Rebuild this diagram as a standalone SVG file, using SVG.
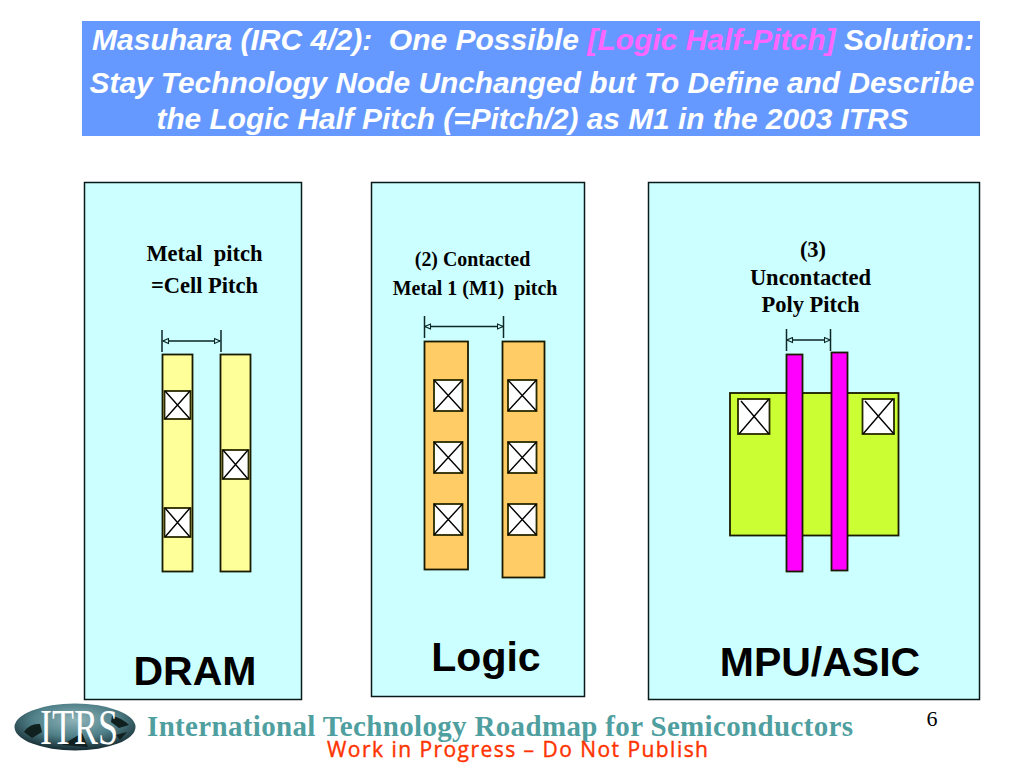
<svg xmlns="http://www.w3.org/2000/svg" width="1024" height="768" viewBox="0 0 1024 768">
<style>
.t{font-family:"Liberation Sans",Arial,sans-serif;font-weight:bold;font-style:italic;font-size:29.850px;fill:#fff}
.s{font-family:"Liberation Serif","Times New Roman",serif;font-weight:bold;text-anchor:middle;fill:#000}
.b{font-family:"Liberation Sans",Arial,sans-serif;font-weight:bold;font-size:41px;text-anchor:middle;fill:#000}
.panel{fill:#ccffff;stroke:#0a1a1a;stroke-width:1.5}
.m{stroke:#1a1a00;stroke-width:1.800}
.y{fill:#ffff99}.o{fill:#ffcc66}.g{fill:#ccff33}.p{fill:#ff00ff}
.c{fill:#fff;stroke:#2a2a00;stroke-width:1.800}
.x{stroke:#000;stroke-width:1.400;fill:none}
.d{stroke:#0d2626;stroke-width:1.500;fill:none}
</style>
<defs>
<marker id="a" markerWidth="8" markerHeight="7" refX="6.500" refY="3.500" orient="auto-start-reverse" markerUnits="userSpaceOnUse"><path d="M1 1L6.500 3.500L1 6Z" fill="#ccffff" stroke="#0d2626" stroke-width="1.100"/></marker>
<radialGradient id="lg" cx=".5" cy=".35" r=".65"><stop offset="0" stop-color="#8fb4b8"/><stop offset=".55" stop-color="#4f7f88"/><stop offset="1" stop-color="#152a30"/></radialGradient>
</defs>
<g id="title">
<rect x="82" y="21" width="898" height="115" fill="#6699ff"/>
<text class="t" x="533" y="50" text-anchor="middle" xml:space="preserve" style="font-size:30px">Masuhara (IRC 4/2):  One Possible <tspan fill="#ff66ff">[Logic Half-Pitch]</tspan> Solution:</text>
<text class="t" x="532" y="93" text-anchor="middle">Stay Technology Node Unchanged but To Define and Describe</text>
<text class="t" x="532.500" y="129" text-anchor="middle">the Logic Half Pitch (=Pitch/2) as M1 in the 2003 ITRS</text>
</g>
<g id="dram">
<rect class="panel" x="84.500" y="182.500" width="217" height="517"/>
<text class="s" x="204.500" y="261" font-size="22.500" xml:space="preserve">Metal  pitch</text>
<text class="s" x="204.500" y="293" font-size="22.500">=Cell Pitch</text>
<path class="d" d="M162 330V352M221 330V352"/>
<path class="d" d="M163 341H220" marker-start="url(#a)" marker-end="url(#a)"/>
<rect class="m y" x="162.500" y="354.500" width="30" height="217"/>
<rect class="m y" x="220.500" y="354.500" width="30" height="217"/>
<rect class="c" x="164.500" y="391" width="26" height="28"/><path class="x" d="M165 391L190 419M190 391L165 419"/>
<rect class="c" x="222.500" y="450" width="26" height="29"/><path class="x" d="M223 450L248 479M248 450L223 479"/>
<rect class="c" x="164.500" y="508" width="26" height="29"/><path class="x" d="M165 508L190 537M190 508L165 537"/>
<text class="b" x="195" y="685">DRAM</text>
</g>
<g id="logic">
<rect class="panel" x="371.500" y="182.500" width="213" height="514"/>
<text class="s" x="472.500" y="266" font-size="19.900">(2) Contacted</text>
<text class="s" x="475" y="295" font-size="19.900" xml:space="preserve">Metal 1 (M1)  pitch</text>
<path class="d" d="M424.500 316V338M503.500 316V338"/>
<path class="d" d="M425 326.500H503" marker-start="url(#a)" marker-end="url(#a)"/>
<rect class="m o" x="424.500" y="341.500" width="43.500" height="228"/>
<rect class="m o" x="502.500" y="341.500" width="42" height="236"/>
<rect class="c" x="434" y="380" width="28.500" height="31"/><path class="x" d="M434 380L462.500 411M462.500 380L434 411"/>
<rect class="c" x="508" y="380" width="28.500" height="31"/><path class="x" d="M508 380L536.500 411M536.500 380L508 411"/>
<rect class="c" x="434" y="442" width="28.500" height="31"/><path class="x" d="M434 442L462.500 473M462.500 442L434 473"/>
<rect class="c" x="508" y="442" width="28.500" height="31"/><path class="x" d="M508 442L536.500 473M536.500 442L508 473"/>
<rect class="c" x="434" y="504" width="28.500" height="31"/><path class="x" d="M434 504L462.500 535M462.500 504L434 535"/>
<rect class="c" x="508" y="504" width="28.500" height="31"/><path class="x" d="M508 504L536.500 535M536.500 504L508 535"/>
<text class="b" x="486" y="671">Logic</text>
</g>
<g id="mpu">
<rect class="panel" x="648.500" y="182.500" width="331" height="517"/>
<text class="s" x="813" y="257" font-size="22.500">(3)</text>
<text class="s" x="810.500" y="285" font-size="22.500">Uncontacted</text>
<text class="s" x="810.500" y="312" font-size="22.500">Poly Pitch</text>
<path class="d" d="M786.500 329V351M830.500 329V351"/>
<path class="d" d="M787 340H830" marker-start="url(#a)" marker-end="url(#a)"/>
<rect class="m g" x="730" y="393" width="168.500" height="142.500"/>
<rect class="c" x="738" y="399" width="31.500" height="35"/><path class="x" d="M739 434L769 399M741 401L769 434"/>
<rect class="c" x="862.500" y="399" width="31.500" height="35"/><path class="x" d="M863 434L893 399M865 401L894 434"/>
<rect class="m p" x="786.500" y="354.500" width="16" height="217"/>
<rect class="m p" x="831.500" y="352.500" width="16" height="218"/>
<text class="b" x="820" y="676">MPU/ASIC</text>
</g>
<g id="footer">
<ellipse cx="75" cy="727" rx="60.500" ry="23.500" fill="url(#lg)"/>
<path d="M24 732q6-9 16-8l2 8-10 6zM112 716q10 2 17 9l-10 3-8-6zM116 735l11-3-7 8zM62 745l20-12 6 14z" fill="#10201f"/>
<text x="79" y="744" font-family="Liberation Serif,serif" font-size="50" text-anchor="middle" fill="#fff" textLength="78" lengthAdjust="spacingAndGlyphs">ITRS</text>
<text x="147" y="736" font-family="Liberation Serif,serif" font-weight="bold" font-size="29" fill="#4f9fa0" textLength="706">International Technology Roadmap for Semiconductors</text>
<text x="327" y="757" font-family="Open Sans,sans-serif" font-size="21" fill="#ff3300" stroke="#ff3300" stroke-width=".4" textLength="381">Work in Progress – Do Not Publish</text>
<text x="932" y="726" font-family="Liberation Serif,serif" font-size="22" text-anchor="middle" fill="#000">6</text>
</g>
</svg>
